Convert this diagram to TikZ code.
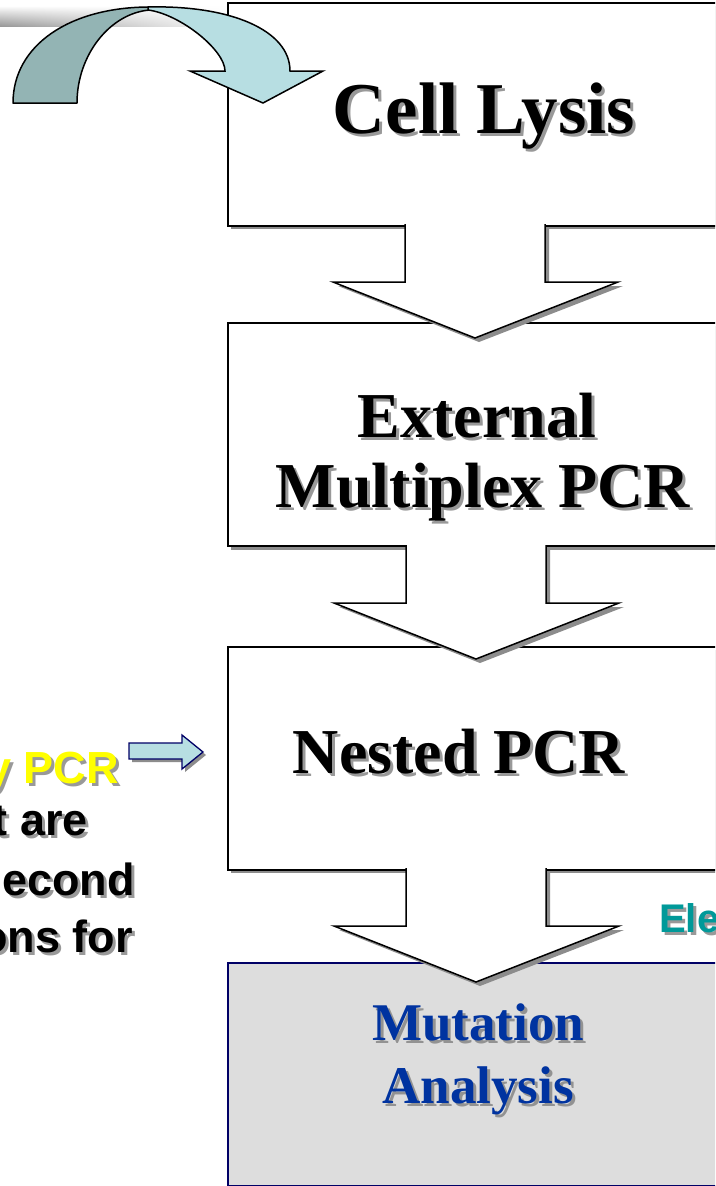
\documentclass[tikz,border=0pt]{standalone}
\usepackage{fontspec}
\setmainfont{Liberation Serif}
\newfontfamily\arialfont{Liberation Sans}
\usetikzlibrary{fadings}
\definecolor{darkteal}{HTML}{93B4B4}
\definecolor{lightteal}{HTML}{B7DEE2}
\definecolor{shadowgray}{HTML}{8C8C8C}
\definecolor{navyline}{HTML}{000066}
\definecolor{mutblue}{HTML}{0033A0}
\definecolor{eleteal}{HTML}{009999}
\definecolor{pcryellow}{HTML}{FFFF00}
\definecolor{boxgray}{HTML}{DDDDDD}
\tikzfading[name=barfade, left color=transparent!0, middle color=transparent!0, right color=transparent!100]
\tikzset{
  stepbox/.style={draw=black, line width=1.5pt, fill=white, minimum width=540pt, minimum height=223pt, anchor=north west, inner sep=0pt},
  lastbox/.style={draw=navyline, line width=1.5pt, fill=boxgray, minimum width=540pt, minimum height=223pt, anchor=north west, inner sep=0pt},
  boxshadow/.style={fill=shadowgray},
  titletxt/.style={font=\bfseries\fontsize{73}{80}\selectfont, inner sep=0pt, anchor=base},
  steptxt/.style={font=\bfseries\fontsize{64}{70}\selectfont, inner sep=0pt, anchor=base},
  muttxt/.style={font=\bfseries\fontsize{53}{60}\selectfont, inner sep=0pt, anchor=base, text=mutblue},
  sidetxt/.style={font=\arialfont\bfseries\fontsize{45}{50}\selectfont, inner sep=0pt, anchor=base east},
  eletxt/.style={font=\arialfont\bfseries\fontsize{40}{46}\selectfont, inner sep=0pt, anchor=base west},
  shadowtxt/.style={text=black!50, text opacity=0.8},
  blockarrow/.pic={
    \fill[shadowgray] (74,3) -- (74,61) -- (148,61) -- (4,117) -- (-137,61) -- (-66,61) -- (-66,3) -- cycle;
    \fill[white] (-70,-6) -- (-70,57) -- (-142,57) -- (0,113) -- (143,57) -- (70,57) -- (70,-6) -- cycle;
    \draw[line width=1.5pt, line join=miter] (-70,-0.8) -- (-70,57) -- (-142,57) -- (0,113) -- (143,57) -- (70,57) -- (70,-0.8);
  }
}
\begin{document}
\begin{tikzpicture}[x=1pt, y=-1pt]
\useasboundingbox (0,0) rectangle (715,1186);
\clip (0,0) rectangle (715,1186);
\fill[white] (0,0) rectangle (715,1186);

% top-left gray bar
\shade[top color=gray!5, bottom color=gray!80, path fading=barfade] (0,7) rectangle (240,26);

% box shadows
\fill[boxshadow] (231,6) rectangle (780,229);
\fill[boxshadow] (231,326) rectangle (780,550);
\fill[boxshadow] (231,650) rectangle (780,873);

% boxes
\node[stepbox] (b1) at (227,2) {};
\node[stepbox] (b2) at (227,322) {};
\node[stepbox] (b3) at (227,646) {};
\node[lastbox] (b4) at (227,962) {};

% box texts
\node[titletxt, shadowtxt] (t1s) at (487,136) {Cell Lysis};
\node[titletxt] (t1) at (484,133) {Cell Lysis};
\node[steptxt, shadowtxt] (t2as) at (480,440) {External};
\node[steptxt] (t2a) at (477,437) {External};
\node[steptxt, shadowtxt] (t2bs) at (486,510) {Multiplex PCR};
\node[steptxt] (t2b) at (483,507) {Multiplex PCR};
\node[steptxt, shadowtxt] (t3s) at (462,776) {Nested PCR};
\node[steptxt] (t3) at (459,773) {Nested PCR};
\node[muttxt, shadowtxt] (t4as) at (481,1043) {Mutation};
\node[muttxt] (t4a) at (478,1040) {Mutation};
\node[muttxt, shadowtxt] (t4bs) at (481,1106) {Analysis};
\node[muttxt] (t4b) at (478,1103) {Analysis};

% block arrows between boxes
\coordinate (a1) at (475,225);
\coordinate (a2) at (476,546);
\coordinate (a3) at (476,869);
\pic at (a1) {blockarrow};
\pic at (a2) {blockarrow};
\pic at (a3) {blockarrow};

% curved arrow
\fill[darkteal, draw=black, line width=1.5pt, line join=round]
  (13,103) .. controls (13,45) and (70,7) .. (150,7)
  -- (150,10) .. controls (110,13) and (77,55) .. (77,103) -- cycle;
\fill[lightteal, draw=black, line width=1.5pt, line join=miter]
  (148,7) .. controls (230,5) and (290,30) .. (290,71)
  -- (323,71) -- (263,103) -- (190,71) -- (225,71)
  .. controls (225,50) and (180,14) .. (148,10) -- cycle;

% left text (cut off)
\node[sidetxt, shadowtxt] (l1s) at (122,786) {y PCR};
\node[sidetxt, text=pcryellow] (l1) at (119,783) {y PCR};
\node[sidetxt, shadowtxt] (l2s) at (91,838) {t are};
\node[sidetxt] (l2) at (88,835) {t are};
\node[sidetxt, shadowtxt] (l3s) at (138,898) {econd};
\node[sidetxt] (l3) at (135,895) {econd};
\node[sidetxt, shadowtxt] (l4s) at (136,955) {ons for};
\node[sidetxt] (l4) at (133,952) {ons for};

% small arrow pointing to Nested PCR
\fill[shadowgray] (132,746) -- (185,746) -- (185,738) -- (206,755) -- (185,772) -- (185,762) -- (132,762) -- cycle;
\filldraw[fill=lightteal, draw=navyline, line width=1.3pt, line join=miter]
  (129,743) -- (182,743) -- (182,735) -- (203,752) -- (182,769) -- (182,759) -- (129,759) -- cycle;

% Ele text (cut off)
\node[eletxt, shadowtxt] (e1s) at (662,935) {Ele};
\node[eletxt, text=eleteal] (e1) at (659,932) {Ele};
\end{tikzpicture}
\end{document}
